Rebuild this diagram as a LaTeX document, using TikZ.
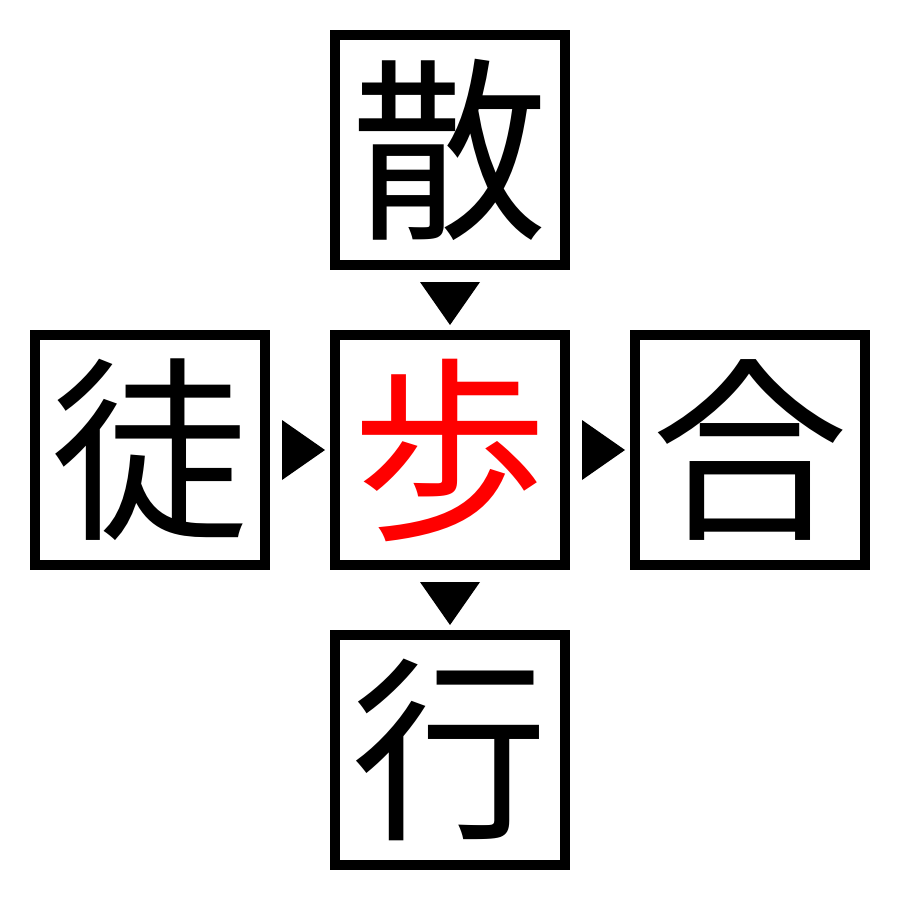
\documentclass[tikz,border=0pt]{standalone}
\usepackage{fontspec}
\newfontfamily\cjk{Noto Sans CJK JP}
\usetikzlibrary{calc}
\begin{document}
\begin{tikzpicture}[x=0.1mm, y=-0.1mm,
  kbox/.style={draw, line width=1mm, minimum size=23mm, inner sep=0pt, outer sep=0pt, font=\cjk\fontsize{56}{56}\selectfont},
  tri/.style={fill=black}]
\useasboundingbox (0,0) rectangle (900,900);
\node[kbox] (san) at (450,150){散};
\node[kbox] (to) at (150,450){徒};
\node[kbox, text=red] (ho) at (450,450){歩};
\node[kbox] (go) at (750,450){合};
\node[kbox] (gyo) at (450,750){行};
\fill[tri] ($(san)+(-30,132)$) -- ($(san)+(30,132)$) -- ($(san)+(0,175)$) -- cycle;
\fill[tri] ($(ho)+(-30,132)$) -- ($(ho)+(30,132)$) -- ($(ho)+(0,175)$) -- cycle;
\fill[tri] ($(to)+(132,-30)$) -- ($(to)+(132,30)$) -- ($(to)+(175,0)$) -- cycle;
\fill[tri] ($(ho)+(132,-30)$) -- ($(ho)+(132,30)$) -- ($(ho)+(175,0)$) -- cycle;
\end{tikzpicture}
\end{document}
